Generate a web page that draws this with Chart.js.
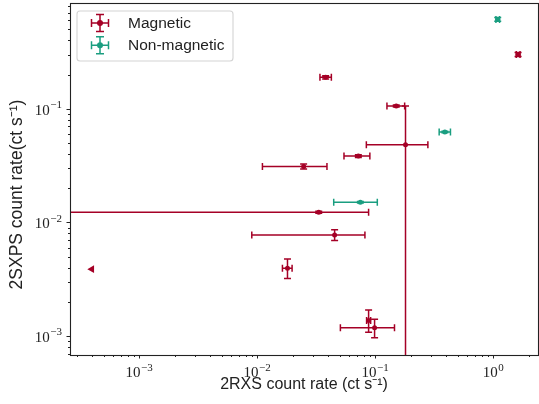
<!DOCTYPE html>
<html>
<head>
<meta charset="utf-8">
<script src="https://cdn.jsdelivr.net/npm/chart.js@4.4.1/dist/chart.umd.min.js"></script>
<style>
  html, body { margin: 0; padding: 0; background: #fff; }
  #wrap { width: 539px; height: 404px; }
</style>
</head>
<body>
<div id="wrap"><canvas id="chart" width="539" height="404"></canvas></div>
<script>
/* ======================
   DATA (count rates, ct/s)
====================== */
const seriesNames = ["Magnetic", "Non-magnetic"];
const xTitle = "2RXS count rate (ct s⁻¹)";
const yTitle = "2SXPS count rate(ct s⁻¹)";

// magnetic sources: 2RXS rate (x), 2SXPS rate (y), with error ranges
const magX    = [0.0381, 0.151, 0.181, 0.0721, 0.0248, 0.0333, 0.0454, 0.0181, 0.0881, 0.099, 1.627];
const magY    = [0.189, 0.1056, 0.0482, 0.0383, 0.031, 0.01225, 0.00776, 0.00394, 0.001365, 0.00118, 0.3006];
const magXLo  = [0.0341, 0.126, 0.0843, 0.0545, 0.0111, 0.00001, 0.00902, 0.0164, 0.0847, 0.0508, 1.57];
const magXHi  = [0.0426, 0.178, 0.280, 0.0903, 0.0391, 0.0881, 0.082, 0.0198, 0.0917, 0.146, 1.69];
const magYLo  = [0.183, 0.1035, 0.00001, 0.0372, 0.0295, 0.0120, 0.00692, 0.0032, 0.00108, 0.000967, 0.289];
const magYHi  = [0.195, 0.1078, 0.1056, 0.0394, 0.0327, 0.0125, 0.00859, 0.00476, 0.00169, 0.0014, 0.312];

// magnetic source with only an upper limit in 2RXS
const limX = [0.000398];
const limY = [0.00387];

// non-magnetic sources
const nonX   = [1.094, 0.390, 0.075];
const nonY   = [0.612, 0.0624, 0.01507];
const nonXLo = [1.056, 0.349, 0.0446];
const nonXHi = [1.134, 0.435, 0.1044];
const nonYLo = [0.588, 0.0614, 0.0148];
const nonYHi = [0.637, 0.0634, 0.0153];

// axis ranges and labelled decades
const xRange = [0.00026, 2.4];
const yRange = [0.00068, 0.853];
const xDecades = [-3, -2, -1, 0];
const yDecades = [-3, -2, -1];

const RED = "#a50026";
const TEAL = "#1a9e80";
const SERIF = "'Liberation Serif', 'DejaVu Serif', serif";
const SANS = "'Liberation Sans', Arial, sans-serif";

function points(xs, ys) {
  return xs.map((x, i) => ({ x, y: ys[i] }));
}
function errors(xl, xh, yl, yh) {
  return xl.map((v, i) => ({ xLo: v, xHi: xh[i], yLo: yl[i], yHi: yh[i] }));
}

// log ticks at 1..9 x 10^n inside the range
function logTicks(min, max) {
  const out = [];
  for (let e = Math.floor(Math.log10(min)); e <= Math.ceil(Math.log10(max)); e++) {
    for (let m = 1; m <= 9; m++) {
      const v = m * Math.pow(10, e);
      if (v >= min && v <= max) out.push({ value: v, major: m === 1 });
    }
  }
  return out;
}
// exponent text for labelled decades, null otherwise
function expLabel(v, decades) {
  const e = Math.round(Math.log10(v));
  if (Math.abs(v - Math.pow(10, e)) > 1e-9 * Math.pow(10, e)) return null;
  if (!decades.includes(e)) return null;
  return e < 0 ? "\u2212" + Math.abs(e) : String(e);
}

/* ======================
   ERROR BARS
====================== */
const errorBarPlugin = {
  id: "errorBars",
  beforeDatasetsDraw(chart) {
    const { ctx, chartArea: a, scales } = chart;
    const cap = 3.5;
    ctx.save();
    ctx.beginPath();
    ctx.rect(a.left, a.top, a.right - a.left, a.bottom - a.top);
    ctx.clip();
    chart.data.datasets.forEach(ds => {
      if (!ds.errors) return;
      ctx.strokeStyle = ds.backgroundColor;
      ctx.lineWidth = 1.5;
      ds.data.forEach((p, i) => {
        const e = ds.errors[i];
        const px = scales.x.getPixelForValue(p.x);
        const py = scales.y.getPixelForValue(p.y);
        const x0 = scales.x.getPixelForValue(e.xLo);
        const x1 = scales.x.getPixelForValue(e.xHi);
        const y0 = scales.y.getPixelForValue(e.yLo);
        const y1 = scales.y.getPixelForValue(e.yHi);
        ctx.beginPath();
        ctx.moveTo(x0, py); ctx.lineTo(x1, py);
        ctx.moveTo(x0, py - cap); ctx.lineTo(x0, py + cap);
        ctx.moveTo(x1, py - cap); ctx.lineTo(x1, py + cap);
        ctx.moveTo(px, y0); ctx.lineTo(px, y1);
        ctx.moveTo(px - cap, y0); ctx.lineTo(px + cap, y0);
        ctx.moveTo(px - cap, y1); ctx.lineTo(px + cap, y1);
        ctx.stroke();
      });
    });
    ctx.restore();
  }
};

/* ======================
   FRAME, TICKS, LEGEND
====================== */
function drawPow(ctx, exp, x, baseY, align) {
  ctx.font = "15px " + SERIF;
  const wBase = ctx.measureText("10").width;
  ctx.font = "11px " + SERIF;
  const wExp = ctx.measureText(exp).width;
  const total = wBase + wExp + 0.5;
  const left = align === "center" ? x - total / 2 : x - total;
  ctx.textAlign = "left";
  ctx.textBaseline = "alphabetic";
  ctx.font = "15px " + SERIF;
  ctx.fillText("10", left, baseY);
  ctx.font = "11px " + SERIF;
  ctx.fillText(exp, left + wBase + 0.5, baseY - 6.5);
}

const framePlugin = {
  id: "frame",
  afterDraw(chart) {
    const { ctx, chartArea: a, scales } = chart;
    ctx.save();
    ctx.strokeStyle = "#222";
    ctx.fillStyle = "#222";
    ctx.lineWidth = 1;

    // tick marks (outside) and labels
    ctx.beginPath();
    scales.x.ticks.forEach(t => {
      const px = Math.round(scales.x.getPixelForValue(t.value)) + 0.5;
      const len = t.major ? 3.5 : 2;
      ctx.moveTo(px, a.bottom); ctx.lineTo(px, a.bottom + len);
    });
    scales.y.ticks.forEach(t => {
      const py = Math.round(scales.y.getPixelForValue(t.value)) + 0.5;
      const len = t.major ? 3.5 : 2;
      ctx.moveTo(a.left, py); ctx.lineTo(a.left - len, py);
    });
    ctx.stroke();

    scales.x.ticks.forEach(t => {
      const ex = expLabel(t.value, xDecades);
      if (ex !== null) drawPow(ctx, ex, scales.x.getPixelForValue(t.value), a.bottom + 22, "center");
    });
    scales.y.ticks.forEach(t => {
      const ex = expLabel(t.value, yDecades);
      if (ex !== null) drawPow(ctx, ex, a.left - 8, scales.y.getPixelForValue(t.value) + 6, "right");
    });

    // y axis title (sits a little below the axis middle in the original)
    ctx.save();
    ctx.translate(17, 194.5);
    ctx.rotate(-Math.PI / 2);
    ctx.font = "17.5px " + SANS;
    ctx.textAlign = "center";
    ctx.textBaseline = "middle";
    ctx.fillStyle = "#222";
    ctx.fillText(yTitle, 0, 0);
    ctx.restore();

    ctx.lineWidth = 1.1;
    ctx.strokeRect(Math.round(a.left) + 0.5, Math.round(a.top) + 0.5,
      Math.round(a.right - a.left), Math.round(a.bottom - a.top));

    // legend box
    const bx = 77, by = 11, bw = 156, bh = 50, r = 3;
    ctx.beginPath();
    ctx.moveTo(bx + r, by);
    ctx.arcTo(bx + bw, by, bx + bw, by + bh, r);
    ctx.arcTo(bx + bw, by + bh, bx, by + bh, r);
    ctx.arcTo(bx, by + bh, bx, by, r);
    ctx.arcTo(bx, by, bx + bw, by, r);
    ctx.closePath();
    ctx.fillStyle = "rgba(255,255,255,0.8)";
    ctx.fill();
    ctx.strokeStyle = "#d4d4d4";
    ctx.stroke();

    const colors = [RED, TEAL];
    seriesNames.forEach((name, i) => {
      const cx = 100, cy = 23 + i * 22.3, h = 8.5, c = 4;
      ctx.strokeStyle = colors[i];
      ctx.lineWidth = 1.5;
      ctx.beginPath();
      ctx.moveTo(cx - h, cy); ctx.lineTo(cx + h, cy);
      ctx.moveTo(cx - h, cy - c); ctx.lineTo(cx - h, cy + c);
      ctx.moveTo(cx + h, cy - c); ctx.lineTo(cx + h, cy + c);
      ctx.moveTo(cx, cy - h); ctx.lineTo(cx, cy + h);
      ctx.moveTo(cx - c, cy - h); ctx.lineTo(cx + c, cy - h);
      ctx.moveTo(cx - c, cy + h); ctx.lineTo(cx + c, cy + h);
      ctx.stroke();
      ctx.fillStyle = colors[i];
      ctx.beginPath();
      ctx.arc(cx, cy, 3, 0, Math.PI * 2);
      ctx.fill();
      ctx.fillStyle = "#222";
      ctx.font = "15.5px " + SANS;
      ctx.textBaseline = "middle";
      ctx.textAlign = "left";
      ctx.fillText(name, 128, cy + 0.5);
    });
    ctx.restore();
  }
};

function fixBox(s, size, horizontal) {
  if (horizontal) s.height = size; else s.width = size;
  s.paddingTop = 0; s.paddingBottom = 0; s.paddingLeft = 0; s.paddingRight = 0;
}

/* ======================
   CHART
====================== */
Chart.defaults.font.family = SANS;
Chart.defaults.color = "#222";

new Chart(document.getElementById("chart"), {
  type: "scatter",
  data: {
    datasets: [
      {
        label: seriesNames[0],
        data: points(magX, magY),
        errors: errors(magXLo, magXHi, magYLo, magYHi),
        backgroundColor: RED,
        borderWidth: 0,
        pointRadius: 2.5
      },
      {
        label: seriesNames[1],
        data: points(nonX, nonY),
        errors: errors(nonXLo, nonXHi, nonYLo, nonYHi),
        backgroundColor: TEAL,
        borderWidth: 0,
        pointRadius: 2.5
      },
      {
        label: "upper limit",
        data: points(limX, limY),
        backgroundColor: RED,
        borderWidth: 0,
        pointStyle: "triangle",
        rotation: -90,
        pointRadius: 4.5
      }
    ]
  },
  options: {
    responsive: false,
    animation: false,
    layout: { autoPadding: false, padding: { top: 3, right: 1, left: 0, bottom: 0 } },
    plugins: {
      legend: { display: false },
      tooltip: { enabled: false }
    },
    scales: {
      x: {
        type: "logarithmic",
        min: xRange[0],
        max: xRange[1],
        afterBuildTicks: s => { s.ticks = logTicks(xRange[0], xRange[1]); },
        afterFit: s => fixBox(s, 49, true),
        grid: { display: false, drawTicks: false },
        border: { display: false },
        ticks: { display: false },
        title: {
          display: true,
          text: xTitle,
          font: { size: 16 },
          padding: { top: 0, bottom: 10 }
        }
      },
      y: {
        type: "logarithmic",
        min: yRange[0],
        max: yRange[1],
        afterBuildTicks: s => { s.ticks = logTicks(yRange[0], yRange[1]); },
        afterFit: s => fixBox(s, 70, false),
        grid: { display: false, drawTicks: false },
        border: { display: false },
        ticks: { display: false },
        title: { display: false }
      }
    }
  },
  plugins: [errorBarPlugin, framePlugin]
});
</script>
</body>
</html>
